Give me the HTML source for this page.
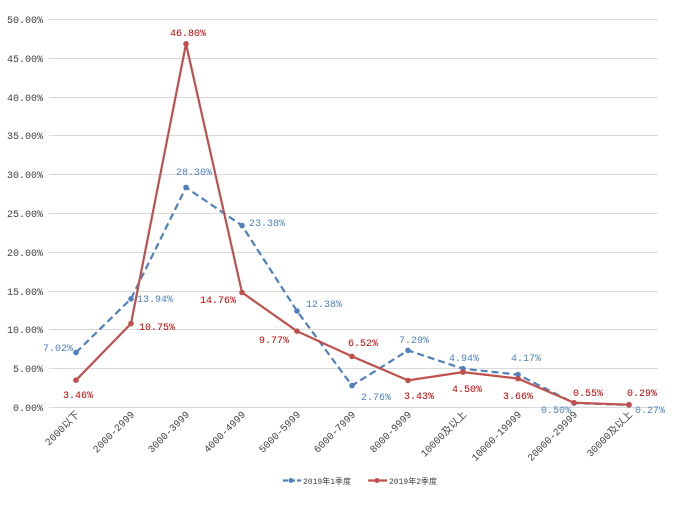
<!DOCTYPE html>
<html><head><meta charset="utf-8"><style>
body{margin:0;background:#fff}
text{font-family:"Liberation Mono","Noto Sans CJK SC",monospace;font-size:10px}
</style></head><body>
<svg width="676" height="501" xmlns="http://www.w3.org/2000/svg">
<g stroke="#d9d9d9" stroke-width="1">
<line x1="49" x2="658" y1="19.5" y2="19.5"/><line x1="49" x2="658" y1="58.5" y2="58.5"/>
<line x1="49" x2="658" y1="97.5" y2="97.5"/><line x1="49" x2="658" y1="135.5" y2="135.5"/>
<line x1="49" x2="658" y1="174.5" y2="174.5"/><line x1="49" x2="658" y1="213.5" y2="213.5"/>
<line x1="49" x2="658" y1="252.5" y2="252.5"/><line x1="49" x2="658" y1="291.5" y2="291.5"/>
<line x1="49" x2="658" y1="329.5" y2="329.5"/><line x1="49" x2="658" y1="368.5" y2="368.5"/>
<line x1="49" x2="658" y1="407.5" y2="407.5"/>
</g>
<g fill="#404040" text-anchor="end">
<text x="43" y="23">50.00%</text><text x="43" y="62">45.00%</text><text x="43" y="101">40.00%</text>
<text x="43" y="139">35.00%</text><text x="43" y="178">30.00%</text><text x="43" y="217">25.00%</text>
<text x="43" y="256">20.00%</text><text x="43" y="295">15.00%</text><text x="43" y="333">10.00%</text>
<text x="43" y="372">5.00%</text><text x="43" y="411">0.00%</text>
</g>
<g fill="#404040" text-anchor="end" style="font-size:8px">
<text transform="translate(80,415) rotate(-45)">2000以下</text>
<text transform="translate(135,415) rotate(-45)">2000-2999</text>
<text transform="translate(190,415) rotate(-45)">3000-3999</text>
<text transform="translate(246,415) rotate(-45)">4000-4999</text>
<text transform="translate(301,415) rotate(-45)">5000-5999</text>
<text transform="translate(356,415) rotate(-45)">6000-7999</text>
<text transform="translate(412,415) rotate(-45)">8000-9999</text>
<text transform="translate(467,415) rotate(-45)">10000及以上</text>
<text transform="translate(522,415) rotate(-45)">10000-19999</text>
<text transform="translate(578,415) rotate(-45)">20000-29999</text>
<text transform="translate(633,415) rotate(-45)">30000及以上</text>
</g>
<polyline fill="none" stroke="#4f81bd" stroke-width="2.2" stroke-dasharray="7,4" points="76,352.5 131,298.8 186,187.4 242,225.6 297,311 352,385.6 408,350.4 463,368.7 518,374.6 574,403.1 629,404.9"/>
<g fill="#4f81bd"><circle cx="76" cy="352.5" r="2.8"/><circle cx="131" cy="298.8" r="2.8"/><circle cx="186" cy="187.4" r="2.8"/><circle cx="242" cy="225.6" r="2.8"/><circle cx="297" cy="311" r="2.8"/><circle cx="352" cy="385.6" r="2.8"/><circle cx="408" cy="350.4" r="2.8"/><circle cx="463" cy="368.7" r="2.8"/><circle cx="518" cy="374.6" r="2.8"/><circle cx="574" cy="403.1" r="2.8"/><circle cx="629" cy="404.9" r="2.8"/></g>
<polyline fill="none" stroke="#c0504d" stroke-width="2.2" points="76,380.2 131,323.6 186,43.8 242,292.5 297,331.2 352,356.4 408,380.4 463,372.1 518,378.6 574,402.7 629,404.7"/>
<g fill="#c0504d"><circle cx="76" cy="380.2" r="2.8"/><circle cx="131" cy="323.6" r="2.8"/><circle cx="186" cy="43.8" r="2.8"/><circle cx="242" cy="292.5" r="2.8"/><circle cx="297" cy="331.2" r="2.8"/><circle cx="352" cy="356.4" r="2.8"/><circle cx="408" cy="380.4" r="2.8"/><circle cx="463" cy="372.1" r="2.8"/><circle cx="518" cy="378.6" r="2.8"/><circle cx="574" cy="402.7" r="2.8"/><circle cx="629" cy="404.7" r="2.8"/></g>
<g fill="#4f81bd">
<text x="43" y="351">7.02%</text><text x="137" y="302">13.94%</text><text x="176" y="175">28.30%</text>
<text x="249" y="226">23.38%</text><text x="306" y="307">12.38%</text><text x="361" y="400">2.76%</text>
<text x="399" y="343">7.29%</text><text x="449" y="361">4.94%</text><text x="511" y="361">4.17%</text>
<text x="541" y="413">0.50%</text><text x="635" y="413">0.27%</text>
</g>
<g fill="#c00000">
<text x="63" y="398">3.46%</text><text x="139" y="330">10.75%</text><text x="170" y="36">46.80%</text>
<text x="200" y="303">14.76%</text><text x="259" y="343">9.77%</text><text x="348" y="346">6.52%</text>
<text x="404" y="399">3.43%</text><text x="452" y="392">4.50%</text><text x="503" y="399">3.66%</text>
<text x="573" y="396">0.55%</text><text x="627" y="396">0.29%</text>
</g>
<line x1="283" x2="301" y1="480.5" y2="480.5" stroke="#4f81bd" stroke-width="2.2" stroke-dasharray="5,2"/>
<circle cx="291" cy="480.5" r="2.5" fill="#4f81bd"/>
<text x="303" y="484" fill="#404040" style="font-size:8px">2019年1季度</text>
<line x1="368" x2="387" y1="480.5" y2="480.5" stroke="#c0504d" stroke-width="2.2"/>
<circle cx="377" cy="480.5" r="2.5" fill="#c0504d"/>
<text x="389" y="484" fill="#404040" style="font-size:8px">2019年2季度</text>
</svg>
</body></html>
